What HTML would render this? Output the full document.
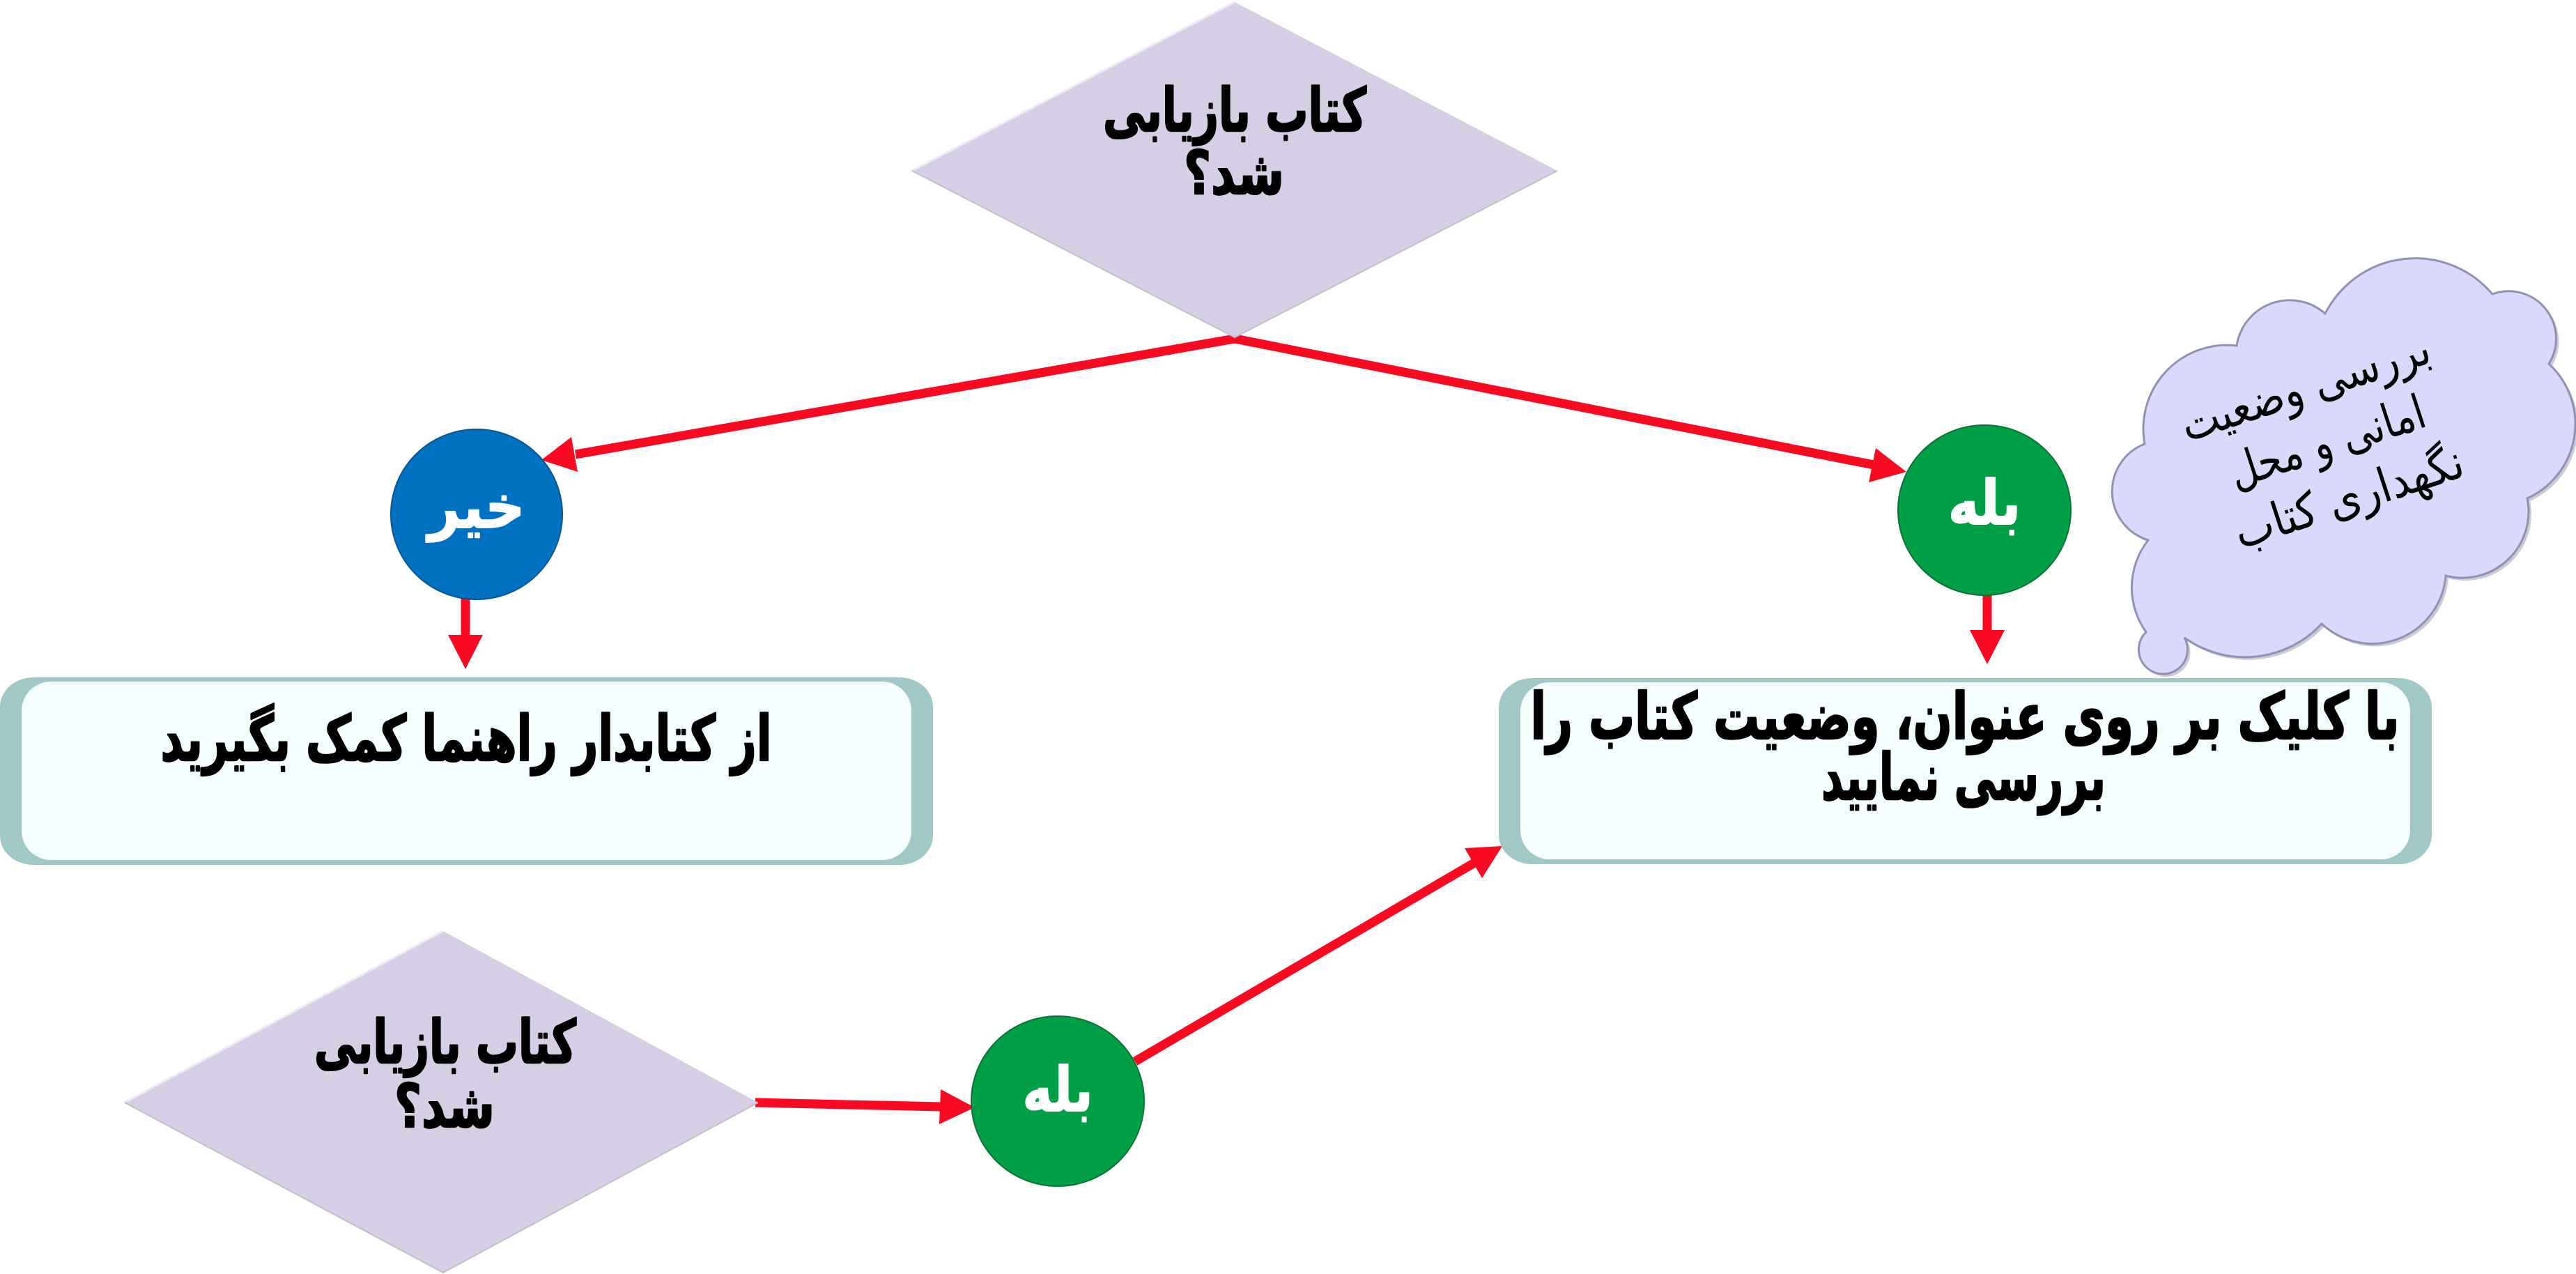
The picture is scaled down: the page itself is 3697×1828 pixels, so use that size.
<!DOCTYPE html>
<html>
<head>
<meta charset="utf-8">
<style>
html,body{margin:0;padding:0;background:#ffffff;width:3697px;height:1828px;overflow:hidden}
svg{display:block}
</style>
</head>
<body>
<svg width="3697" height="1828" viewBox="0 0 3697 1828" xmlns="http://www.w3.org/2000/svg" font-family="'DejaVu Sans', sans-serif">
  <rect x="0" y="0" width="3697" height="1828" fill="#ffffff"/>

  <!-- Connectors -->
  <g stroke="#F80A22" stroke-width="13" stroke-linecap="butt" fill="none">
    <line x1="1772" y1="486" x2="826" y2="652"/>
    <line x1="1772" y1="486" x2="2689" y2="667"/>
    <line x1="668" y1="856" x2="668" y2="913"/>
    <line x1="2852" y1="850" x2="2852" y2="906"/>
    <line x1="1084" y1="1582" x2="1351" y2="1588"/>
    <line x1="1629" y1="1523" x2="2116" y2="1238"/>
  </g>
  <g fill="#F80A22">
    <polygon points="777,660 829,677 820,627"/>
    <polygon points="2736,677 2692,643 2682,692"/>
    <polygon points="668,960 643,911 693,911"/>
    <polygon points="2852,953 2827,904 2877,904"/>
    <polygon points="1399,1589 1350,1563 1348,1613"/>
    <polygon points="2156,1214 2127,1260 2102,1217"/>
  </g>

  <!-- Top diamond -->
  <polygon points="1309,245 1772,3 2235,245 1772,484" fill="#D6CEE5"/>
  <polyline points="1309,245 1772,3" stroke="#EEE8FA" stroke-width="3" fill="none"/>
  <polyline points="2235,245 1772,484 1309,245" stroke="#C2BDCB" stroke-width="2" fill="none"/>

  <!-- Bottom diamond -->
  <polygon points="179,1582 636,1336 1088,1582 636,1826" fill="#D6CEE5"/>
  <polyline points="179,1582 636,1336" stroke="#EEE8FA" stroke-width="3" fill="none"/>
  <polyline points="1088,1582 636,1826 179,1582" stroke="#C2BDCB" stroke-width="2" fill="none"/>

  <!-- Circles -->
  <ellipse cx="684" cy="738" rx="123" ry="122" fill="#0070C0" stroke="#0B558F" stroke-width="2"/>
  <ellipse cx="2848" cy="732" rx="124" ry="122" fill="#009E47" stroke="#0B7236" stroke-width="2"/>
  <ellipse cx="1518" cy="1580" rx="124" ry="122" fill="#009E47" stroke="#0B7236" stroke-width="2"/>

  <!-- Left box -->
  <rect x="0" y="972" width="1339" height="269" rx="48" ry="42" fill="#A1C7C6"/>
  <rect x="31" y="978" width="1277" height="256" rx="42" ry="42" fill="#F5FEFE"/>

  <!-- Right box -->
  <rect x="2151" y="973" width="1339" height="267" rx="48" ry="42" fill="#A1C7C6"/>
  <rect x="2182" y="979" width="1277" height="254" rx="42" ry="42" fill="#F5FEFE"/>

  <!-- Cloud -->
  <path d="M 3341,454 A 145,145 0 0 1 3581,426 A 68,68 0 0 1 3662,526 A 117,117 0 0 1 3631,719 A 95,95 0 0 1 3514,830 A 106,106 0 0 1 3336,899 A 150,150 0 0 1 3139,919 A 35,35 0 1 1 3084,911 A 110,110 0 0 1 3087,779 A 73,73 0 0 1 3082,641 A 120,120 0 0 1 3214,500 A 77,77 0 0 1 3341,454 Z" fill="#A8A6BC" opacity="0.6"/>
  <path d="M 3337,450 A 145,145 0 0 1 3577,422 A 68,68 0 0 1 3658,522 A 117,117 0 0 1 3627,715 A 95,95 0 0 1 3510,826 A 106,106 0 0 1 3332,895 A 150,150 0 0 1 3135,915 A 35,35 0 1 1 3080,907 A 110,110 0 0 1 3083,775 A 73,73 0 0 1 3078,637 A 120,120 0 0 1 3210,496 A 77,77 0 0 1 3337,450 Z" fill="#D9D9FB" stroke="#9490B4" stroke-width="3"/>

  <!-- Text: diamonds -->
  <g font-weight="bold" fill="#000000" stroke="#000000" stroke-width="2.5" stroke-linejoin="round" text-anchor="middle" direction="rtl">
    <text x="1772" y="188" font-size="86" textLength="378" lengthAdjust="spacingAndGlyphs">کتاب بازیابی</text>
    <text x="1771" y="278" font-size="86" textLength="144" lengthAdjust="spacingAndGlyphs">شد؟</text>
    <text x="639" y="1525" font-size="86" textLength="376" lengthAdjust="spacingAndGlyphs">کتاب بازیابی</text>
    <text x="638" y="1617" font-size="86" textLength="144" lengthAdjust="spacingAndGlyphs">شد؟</text>

    <!-- Boxes -->
    <text x="669" y="1091" font-size="90" textLength="877" lengthAdjust="spacingAndGlyphs">از کتابدار راهنما کمک بگیرید</text>
    <text x="2820" y="1060" font-size="92" textLength="1247" lengthAdjust="spacingAndGlyphs">با کلیک بر روی عنوان، وضعیت کتاب را</text>
    <text x="2818" y="1147" font-size="92" textLength="408" lengthAdjust="spacingAndGlyphs">بررسی نمایید</text>
  </g>

  <!-- Text: circles -->
  <g font-weight="bold" fill="#FFFFFF" stroke="#FFFFFF" stroke-width="2" stroke-linejoin="round" text-anchor="middle" direction="rtl">
    <text x="684" y="757" font-size="86" textLength="139" lengthAdjust="spacingAndGlyphs">خیر</text>
    <text x="2848" y="752" font-size="88" textLength="104" lengthAdjust="spacingAndGlyphs">بله</text>
    <text x="1518" y="1594" font-size="88" textLength="101" lengthAdjust="spacingAndGlyphs">بله</text>
  </g>

  <!-- Text: cloud -->
  <g transform="rotate(-18 3340 635)" fill="#000000" text-anchor="middle" direction="rtl" font-size="68">
    <text x="3335" y="572" textLength="372" lengthAdjust="spacingAndGlyphs">بررسی وضعیت</text>
    <text x="3340" y="657" textLength="292" lengthAdjust="spacingAndGlyphs">امانی و محل</text>
    <text x="3345" y="742" textLength="342" lengthAdjust="spacingAndGlyphs">نگهداری کتاب</text>
  </g>
</svg>
</body>
</html>
